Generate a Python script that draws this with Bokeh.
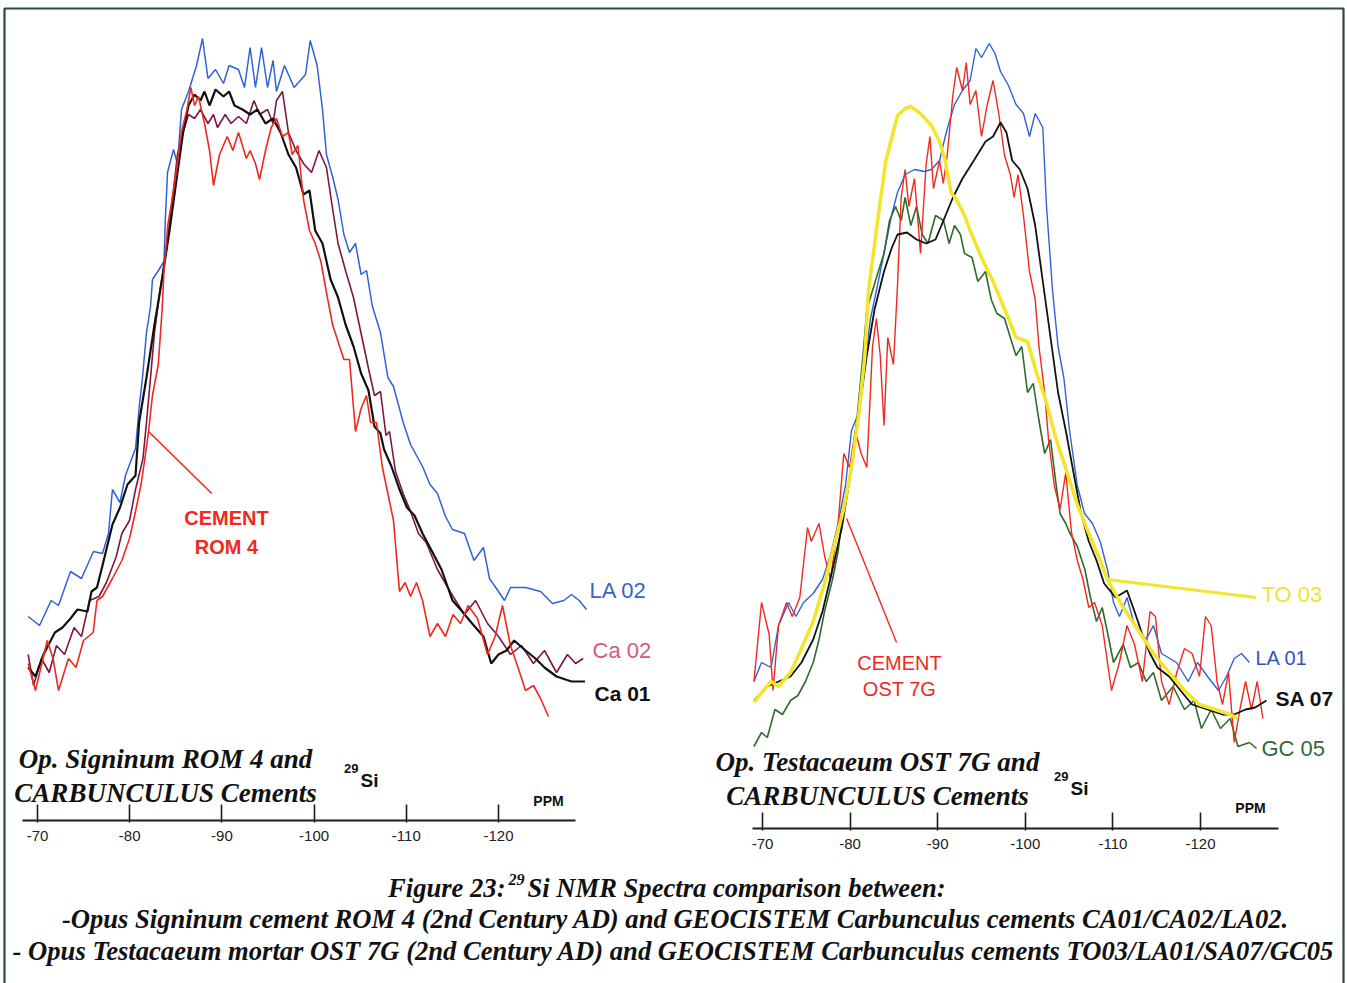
from bokeh.plotting import figure
from bokeh.models import Range1d, LinearAxis, FixedTicker, Label
from bokeh.embed import file_html
from bokeh.resources import INLINE

# ---------------- data (29Si NMR spectra, ppm vs intensity in arbitrary units) ----------------
ppm_ticks = [-70, -80, -90, -100, -110, -120]
tick_labels = ["-70", "-80", "-90", "-100", "-110", "-120"]

# Left panel: Opus Signinum ROM 4 and Carbunculus cements
la02_ppm = [-68.99,-70.22,-71.48,-72.28,-73.58,-74.77,-76.07,-77.05,-77.70,-78.13,
            -78.95,-79.54,-80.63,-81.06,-81.39,-81.82,-82.26,-82.47,-83.12,-83.72,
            -83.88,-84.10,-84.75,-85.18,-85.62,-86.38,-87.25,-87.90,-88.49,-89.31,
            -90.17,-90.78,-91.80,-92.45,-93.06,-93.64,-94.30,-94.95,-95.55,-95.92,
            -96.79,-97.83,-99.07,-99.58,-100.33,-100.91,-101.34,-102.00,-102.60,-103.23,
            -103.84,-104.49,-105.10,-105.68,-106.33,-107.20,-108.00,-108.61,-109.26,-109.66,
            -110.46,-111.76,-112.57,-113.38,-114.25,-115.01,-116.31,-117.34,-118.37,-119.02,
            -120.00,-120.65,-121.30,-122.93,-124.56,-125.86,-127.09,-127.92,-128.75,-129.54]
la02_int = [124,115,140,135,169,162,189,187,207,251,
            238,265,292,336,363,408,434,461,470,479,
            524,568,591,577,631,649,675,702,662,671,
            657,675,671,653,693,653,693,653,680,649,
            675,653,666,700,675,631,586,564,541,506,
            488,497,466,470,434,408,363,354,332,318,
            296,274,256,247,224,211,207,180,193,162,
            149,140,153,153,149,137,140,146,140,131]

ca01_ppm = [-68.99,-69.78,-70.65,-71.89,-72.71,-73.58,-74.34,-75.42,-75.86,-76.45,
            -77.05,-78.13,-78.95,-79.76,-80.63,-81.02,-81.82,-82.69,-83.51,-84.32,
            -85.18,-85.79,-86.38,-87.03,-87.68,-88.11,-88.66,-89.31,-90.17,-90.78,
            -91.37,-92.23,-93.06,-93.86,-94.73,-95.55,-96.36,-97.22,-98.04,-98.85,
            -99.50,-100.12,-100.91,-101.79,-102.60,-103.41,-104.28,-105.10,-105.90,-106.55,
            -107.20,-107.59,-108.39,-109.26,-110.07,-110.89,-111.76,-112.57,-113.82,-115.01,
            -115.88,-117.14,-118.37,-119.21,-120.00,-120.87,-121.70,-122.93,-124.01,-124.99,
            -126.29,-127.92,-129.38]
ca01_int = [73,64,86,108,113,122,131,129,149,153,
            175,216,233,256,265,318,363,416,461,510,
            568,608,635,646,640,649,635,651,644,649,
            635,631,626,631,617,622,608,586,573,546,
            550,510,497,461,443,416,394,367,350,314,
            307,291,274,251,233,225,207,193,171,140,
            131,117,104,77,86,90,100,90,82,73,
            64,59,59]

ca02_ppm = [-68.99,-69.57,-70.43,-71.27,-72.06,-72.93,-73.97,-74.77,-75.64,-76.67,
            -77.48,-78.54,-79.15,-79.98,-80.63,-81.44,-81.82,-82.26,-82.69,-83.31,
            -83.93,-84.53,-85.18,-85.79,-86.38,-87.03,-87.68,-88.49,-89.09,-89.52,
            -90.36,-90.99,-91.80,-92.65,-93.48,-94.08,-94.95,-95.55,-95.92,-96.57,
            -97.22,-98.04,-98.85,-99.72,-100.53,-101.34,-102.00,-102.60,-103.41,-104.27,
            -105.10,-105.90,-106.55,-107.20,-107.80,-108.18,-108.83,-109.66,-110.46,-111.32,
            -112.16,-113.38,-114.25,-115.07,-116.31,-117.51,-118.81,-120.00,-121.30,-122.49,
            -123.79,-124.99,-126.29,-127.48,-128.36,-129.18]
ca02_int = [86,55,82,68,95,86,113,104,140,144,
            158,184,207,220,251,282,318,363,408,452,
            488,533,586,608,626,622,631,617,626,613,
            626,617,624,617,640,626,631,617,640,649,
            608,590,577,568,590,573,532,497,470,443,
            407,372,345,349,305,309,269,247,229,207,
            198,171,157,144,126,140,117,104,86,95,
            77,90,68,86,77,82]

rom4_ppm = [-68.99,-69.78,-71.06,-71.68,-72.28,-73.36,-74.18,-74.99,-76.04,-76.45,
            -77.05,-78.13,-79.15,-79.98,-80.63,-81.23,-81.65,-82.04,-82.47,-83.10,
            -83.51,-83.72,-84.13,-84.75,-85.18,-85.59,-86.21,-86.63,-87.03,-87.46,
            -88.11,-88.66,-89.09,-89.74,-90.58,-91.19,-91.80,-92.65,-93.06,-93.64,
            -94.08,-94.73,-95.35,-95.92,-96.57,-97.22,-97.62,-98.25,-98.85,-99.50,
            -100.12,-100.74,-101.34,-102.00,-102.60,-103.23,-103.84,-104.49,-105.10,-105.68,
            -106.12,-106.77,-107.39,-108.00,-108.61,-109.26,-109.87,-110.46,-111.11,-111.76,
            -112.57,-113.38,-114.25,-115.07,-115.88,-116.71,-117.72,-118.81,-119.63,-120.43,
            -121.30,-122.12,-122.93,-123.80,-124.61,-125.42]
rom4_int = [77,50,100,82,50,82,73,100,108,140,
            144,162,180,202,229,256,282,309,345,376,
            430,470,515,550,577,608,631,653,635,644,
            617,590,555,586,604,590,608,582,590,577,
            561,590,613,622,604,608,586,595,541,510,
            497,479,448,416,399,381,381,309,332,345,
            318,318,274,247,220,149,158,144,158,140,
            104,117,104,126,117,135,122,86,104,135,
            95,73,50,55,41,24]

# Right panel: Opus Testacaeum OST 7G and Carbunculus cements
to03_ppm = [-69.02,-70.11,-70.98,-71.83,-73.20,-74.45,-75.79,-77.08,-78.41,-79.25,
            -80.16,-81.03,-81.69,-82.10,-83.22,-84.09,-85.41,-86.28,-86.93,-88.04,
            -89.29,-90.21,-90.86,-91.52,-92.15,-93.06,-93.70,-95.00,-96.32,-97.17,
            -98.08,-98.94,-100.25,-101.35,-102.42,-103.53,-104.59,-105.94,-107.21,-108.55,
            -109.38,-111.18,-112.92,-114.63,-116.42,-118.17,-119.89,-121.67,-123.42,-124.28]
to03_int = [58,70,79,74,88,112,139,177,223,251,
            293,349,405,470,545,600,645,652,654,647,
            635,619,600,568,561,545,530,503,479,461,
            442,423,419,386,358,321,293,256,228,200,
            181,153,130,107,88,70,56,51,46,42]

la01_ppm = [-69.02,-69.89,-70.98,-71.83,-72.97,-73.82,-74.68,-75.79,-76.85,-77.76,
            -78.63,-79.47,-80.16,-81.03,-81.69,-82.33,-83.22,-84.09,-84.73,-85.41,
            -86.28,-87.35,-88.46,-89.29,-90.21,-90.86,-91.30,-91.92,-92.83,-93.70,
            -94.36,-95.00,-95.89,-96.54,-97.17,-98.08,-98.94,-99.79,-100.48,-101.13,
            -102.00,-102.42,-103.11,-103.74,-104.41,-105.05,-105.94,-106.76,-107.67,-108.55,
            -109.38,-110.07,-110.75,-111.61,-112.47,-113.80,-114.63,-115.55,-117.26,-118.60,
            -119.66,-120.80,-122.05,-122.97,-123.85,-124.68,-125.59]
la01_int = [79,98,93,135,158,144,158,167,181,205,
            237,275,330,349,396,442,479,517,545,568,
            586,591,589,591,600,624,638,656,670,680,
            712,703,717,707,689,675,656,647,624,647,
            633,554,470,414,382,330,275,247,237,219,
            191,158,144,163,135,121,135,107,98,79,
            98,84,70,84,102,107,98]

sa07_ppm = [-69.02,-70.55,-71.83,-73.20,-74.45,-75.79,-76.85,-77.99,-79.06,-80.16,
            -81.03,-81.91,-82.79,-83.87,-84.73,-85.41,-86.50,-87.58,-88.68,-89.75,
            -90.66,-91.74,-92.83,-94.13,-95.46,-96.32,-97.17,-97.85,-98.50,-99.38,
            -100.25,-101.13,-102.00,-102.88,-103.74,-104.62,-105.50,-106.37,-107.25,-108.13,
            -109.00,-110.30,-111.61,-112.47,-113.36,-114.24,-115.09,-116.42,-117.72,-119.04,
            -120.80,-122.51,-123.85,-125.14,-126.24,-127.53]
sa07_int = [60,74,79,84,98,121,149,191,233,293,
            349,405,451,489,512,526,528,521,517,521,
            540,563,582,600,619,624,638,628,600,591,
            572,535,479,423,368,330,288,247,219,200,
            177,163,170,149,126,107,93,84,70,56,
            51,46,46,51,53,60]

gc05_ppm = [-69.02,-69.89,-70.55,-71.42,-72.28,-73.20,-74.04,-74.91,-75.79,-76.45,
            -77.08,-77.99,-78.63,-79.28,-80.16,-80.81,-81.47,-81.91,-82.56,-83.22,
            -83.87,-84.50,-85.18,-85.83,-86.28,-86.93,-87.58,-88.24,-88.89,-89.75,
            -90.66,-91.30,-91.92,-92.60,-93.06,-93.92,-94.58,-95.46,-96.11,-96.76,
            -97.63,-98.29,-98.94,-99.60,-100.25,-100.91,-101.56,-102.21,-102.88,-103.53,
            -103.97,-104.62,-105.05,-105.94,-106.80,-107.44,-108.13,-108.78,-109.43,-110.07,
            -111.18,-112.01,-112.92,-113.80,-114.63,-115.55,-116.87,-118.17,-119.26,-120.11,
            -121.22,-122.28,-123.39,-124.28,-125.59]
gc05_int = [14,28,23,51,46,60,65,79,98,121,
            149,181,209,256,293,344,405,451,470,489,
            507,540,554,540,563,535,554,526,517,545,
            540,517,535,526,507,503,479,489,461,447,
            442,423,405,414,368,377,340,307,321,275,
            247,237,228,214,191,163,139,153,126,98,
            116,93,98,79,88,60,74,51,60,32,
            51,32,42,14,18]

ost7g_ppm = [-69.02,-69.89,-70.76,-71.20,-71.83,-72.74,-73.39,-74.26,-75.14,-75.57,
             -76.45,-77.08,-77.76,-78.63,-79.28,-79.93,-80.59,-81.26,-81.91,-82.56,
             -83.00,-83.44,-83.87,-84.30,-84.95,-85.41,-85.83,-86.28,-86.71,-87.35,
             -88.04,-88.68,-89.11,-89.52,-90.21,-90.64,-91.08,-91.74,-92.17,-92.83,
             -93.26,-93.70,-94.36,-95.00,-95.66,-96.32,-96.97,-97.63,-98.29,-98.72,
             -99.17,-99.79,-100.48,-101.13,-101.56,-102.21,-102.65,-103.31,-103.97,-104.62,
             -105.27,-105.94,-106.59,-107.25,-107.90,-108.78,-109.84,-110.75,-111.61,-112.47,
             -113.36,-114.24,-114.86,-115.55,-116.42,-117.29,-118.17,-119.04,-119.89,-120.57,
             -121.22,-121.89,-122.51,-123.20,-123.85,-124.50,-125.14,-125.82,-126.47,-127.12]
ost7g_int = [79,158,126,70,135,158,144,163,233,219,
             237,205,181,237,307,293,330,307,293,414,
             442,405,335,423,396,475,563,591,554,582,
             507,596,624,572,600,577,605,666,693,670,
             698,656,670,624,656,680,647,605,586,563,
             586,545,489,461,414,368,321,275,251,288,
             228,200,181,153,158,135,70,98,135,116,
             79,149,144,79,56,88,112,107,84,144,
             135,79,56,88,18,51,79,51,79,42]

# ---------------- layout helpers ----------------
W, H = 1347, 983
BORDER_L, BORDER_R, BORDER_T = 4, 1343, 8      # page frame (bottom edge lies below the window)


def lin_range(px_a, v_a, px_b, v_b, px_start, px_end):
    k = (v_b - v_a) / (px_b - px_a)
    return Range1d(v_a + (px_start - px_a) * k, v_a + (px_end - px_a) * k)


# frame covers the whole page; default ranges are page pixels (y downward)
p = figure(width=W, height=H, output_backend="svg", toolbar_location=None,
           x_range=Range1d(0, W), y_range=Range1d(H, 0),
           x_axis_location=None, y_axis_location=None,
           min_border_left=0, min_border_right=0, min_border_top=0, min_border_bottom=0,
           background_fill_color="white", border_fill_color="white",
           outline_line_color=None)
p.grid.visible = False

# page frame: left, top and right edges
p.line([BORDER_L, BORDER_L, BORDER_R, BORDER_R], [H + 5, BORDER_T, BORDER_T, H + 5],
       line_color="#2d4a3e", line_width=2.2)

# panel scales: ppm ticks -70 / -120 anchored to page pixels; intensity anchored to baseline
p.extra_x_ranges = {
    "L": lin_range(37, -70, 498, -120, 0, W),
    "R": lin_range(762, -70, 1200, -120, 0, W),
}
p.extra_y_ranges = {
    "LY": lin_range(740, 0, 40, 700, H, 0),
    "RY": lin_range(760, 0, 60, 700, H, 0),
}

# ---------------- spectra ----------------
BLUE = "#2f62d6"
RED = "#f0281e"
BLACK = "#111111"
MAROON = "#7c1744"
GREEN = "#2f6b2c"
YELLOW = "#f2e52a"

kwL = dict(x_range_name="L", y_range_name="LY")
kwR = dict(x_range_name="R", y_range_name="RY")

p.line(la02_ppm, la02_int, line_color=BLUE, line_width=1.5, **kwL)
p.line(ca02_ppm, ca02_int, line_color=MAROON, line_width=1.6, **kwL)
p.line(ca01_ppm, ca01_int, line_color=BLACK, line_width=2.2, **kwL)
p.line(rom4_ppm, rom4_int, line_color=RED, line_width=1.6, **kwL)

p.line(la01_ppm, la01_int, line_color=BLUE, line_width=1.4, **kwR)
p.line(gc05_ppm, gc05_int, line_color=GREEN, line_width=1.6, **kwR)
p.line(ost7g_ppm, ost7g_int, line_color=RED, line_width=1.4, **kwR)
p.line(sa07_ppm, sa07_int, line_color=BLACK, line_width=1.8, **kwR)
p.line(to03_ppm, to03_int, line_color=YELLOW, line_width=3.5, **kwR)

# leader lines from curves to their labels
p.line([rom4_ppm[17], -88.9], [rom4_int[17], 247], line_color=RED, line_width=1.6, **kwL)
p.line([-79.6, -85.3], [242, 118], line_color=RED, line_width=1.4, **kwR)
p.line([to03_ppm[40], -126.3], [to03_int[40], 163], line_color=YELLOW, line_width=3.0, **kwR)
p.line([gc05_ppm[-1], -126.4], [gc05_int[-1], 12], line_color=GREEN, line_width=1.6, **kwR)


# ---------------- ppm axes drawn inside the page ----------------
def add_axis(rng, y_loc, px_lo, px_hi, a, b):
    k = (b[1] - a[1]) / (b[0] - a[0])
    bounds = (a[1] + (px_lo - a[0]) * k, a[1] + (px_hi - a[0]) * k)
    ax = LinearAxis(x_range_name=rng, fixed_location=y_loc, bounds=bounds,
                    ticker=FixedTicker(ticks=ppm_ticks, minor_ticks=[]),
                    major_label_overrides=dict(zip(ppm_ticks, tick_labels)),
                    major_tick_in=16, major_tick_out=2,
                    minor_tick_in=0, minor_tick_out=0,
                    axis_line_color="#1c1c1c", axis_line_width=1.8,
                    major_tick_line_color="#1c1c1c", major_tick_line_width=1.6,
                    major_label_standoff=8,
                    major_label_text_font="Liberation Sans",
                    major_label_text_font_size="15px",
                    major_label_text_color="#222222")
    p.add_layout(ax, "below")


add_axis("L", 820, 22, 575, (37, -70), (498, -120))
add_axis("R", 828, 752, 1278, (762, -70), (1200, -120))


# ---------------- texts ----------------
def label(x, y, text, size, color="#111111", font="Liberation Sans", style="normal",
          align="left", baseline="middle"):
    p.add_layout(Label(x=x, y=y, text=text, text_font_size=f"{size}px", text_color=color,
                       text_font=font, text_font_style=style, text_align=align,
                       text_baseline=baseline))


SERIF = "Liberation Serif"

# panel titles
label(165, 758, "Op. Signinum ROM 4 and", 27, font=SERIF, style="bold italic", align="center")
label(165, 792, "CARBUNCULUS Cements", 27, font=SERIF, style="bold italic", align="center")
label(877, 761, "Op. Testacaeum OST 7G and", 27, font=SERIF, style="bold italic", align="center")
label(877, 795, "CARBUNCULUS Cements", 27, font=SERIF, style="bold italic", align="center")

# nucleus / unit
label(358, 768, "29", 13, style="bold", align="right")
label(360, 780, "Si", 19, style="bold")
label(1068, 776, "29", 13, style="bold", align="right")
label(1070, 788, "Si", 19, style="bold")
label(548, 800, "PPM", 14, style="bold", align="center")
label(1250, 807, "PPM", 14, style="bold", align="center")

# series labels, left
label(589, 590, "LA 02", 22, color="#3a62c8")
label(592, 650, "Ca 02", 22, color="#d9577f")
label(594, 693, "Ca 01", 21, color="#111111", style="bold")
label(226, 517, "CEMENT", 20, color=RED, style="bold", align="center")
label(226, 546, "ROM 4", 20, color=RED, style="bold", align="center")

# series labels, right
label(1261, 594, "TO 03", 22, color="#eee23a")
label(1255, 657, "LA 01", 20, color="#3653b5")
label(1275, 698, "SA 07", 21, color="#111111", style="bold")
label(1261, 748, "GC 05", 22, color="#2f6b3a")
label(899, 662, "CEMENT", 20, color=RED, align="center")
label(899, 688, "OST 7G", 20, color=RED, align="center")

# caption
CAP = 26.6
label(505, 887, "Figure 23:", CAP, font=SERIF, style="bold italic", align="right")
label(508, 879, "29", 16, font=SERIF, style="bold italic")
label(527, 887, "Si NMR Spectra comparison between:", CAP, font=SERIF, style="bold italic")
label(675, 918, "-Opus Signinum cement ROM 4 (2nd Century AD) and GEOCISTEM Carbunculus cements CA01/CA02/LA02.",
      CAP, font=SERIF, style="bold italic", align="center")
label(673, 950, "- Opus Testacaeum mortar OST 7G (2nd Century AD) and GEOCISTEM Carbunculus cements TO03/LA01/SA07/GC05",
      CAP, font=SERIF, style="bold italic", align="center")

open("out.html", "w").write(file_html(p, INLINE))
